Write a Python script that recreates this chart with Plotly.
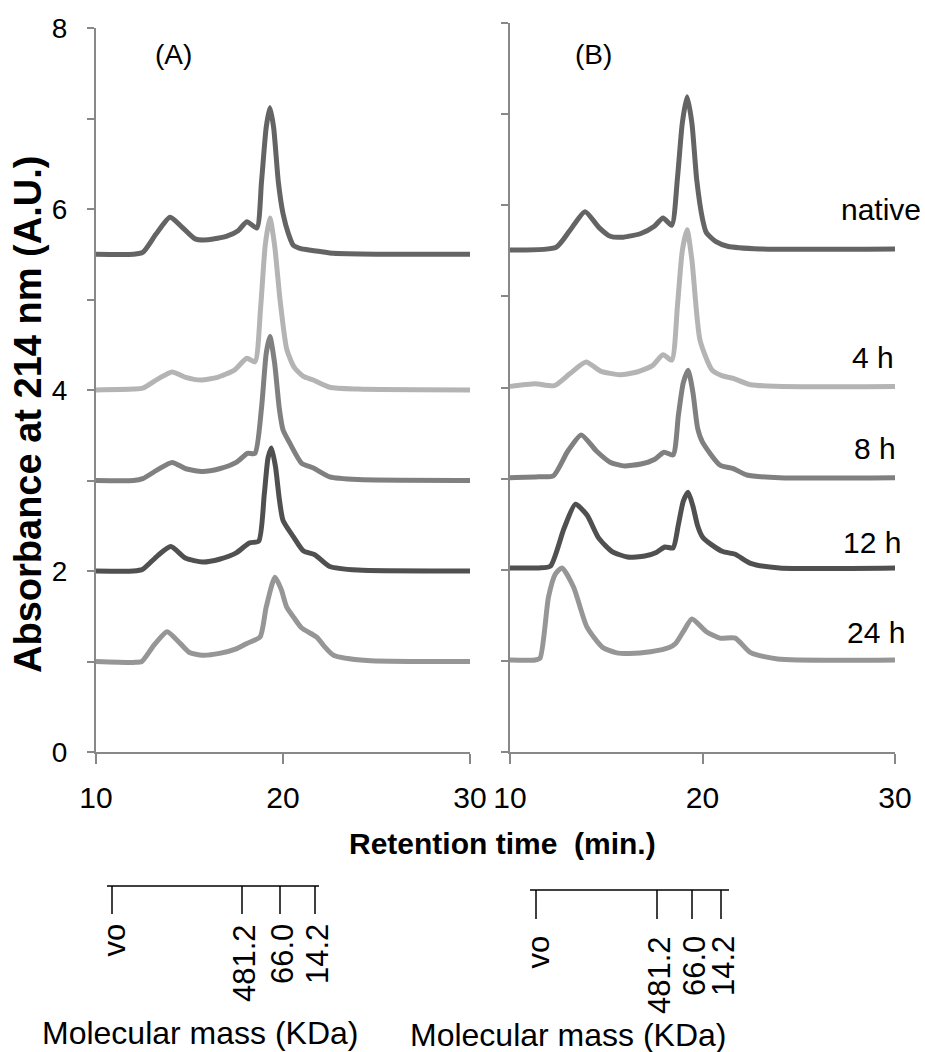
import plotly.graph_objects as go

# ---------------- data ----------------
series_names = ["native", "4 h", "8 h", "12 h", "24 h"]
series_colors = ["#646464", "#b4b4b4", "#808080", "#505050", "#969696"]

# Panel A
A_native_t = [10, 12.0, 12.5, 13.2, 13.96, 14.6, 15.3, 16.0, 17.0, 17.6, 18.07, 18.6, 18.85, 19.1, 19.3, 19.5, 19.75, 20.0, 20.3, 20.55, 21.0, 21.3, 22.0, 22.7, 25, 30]
A_native_y = [5.5, 5.5, 5.52, 5.72, 5.91, 5.8, 5.67, 5.66, 5.7, 5.76, 5.86, 5.79, 6.3, 6.9, 7.12, 6.9, 6.3, 5.95, 5.72, 5.6, 5.56, 5.55, 5.53, 5.51, 5.5, 5.5]

A_4h_t = [10, 12.0, 12.5, 13.3, 14.07, 14.8, 15.6, 16.5, 17.4, 18.07, 18.5, 18.8, 19.05, 19.3, 19.55, 19.84, 20.2, 20.6, 21.09, 21.62, 22.5, 24, 30]
A_4h_y = [4.0, 4.01, 4.02, 4.12, 4.2, 4.14, 4.11, 4.14, 4.22, 4.35, 4.31, 4.9, 5.6, 5.9, 5.6, 5.0, 4.45, 4.25, 4.15, 4.11, 4.03, 4.01, 4.0]

A_8h_t = [10, 12.0, 12.5, 13.3, 14.07, 14.8, 15.7, 16.6, 17.5, 18.1, 18.5, 18.85, 19.1, 19.3, 19.55, 19.8, 20.0, 20.37, 21.0, 21.6, 22.5, 24, 30]
A_8h_y = [3.0, 3.0, 3.02, 3.12, 3.2, 3.13, 3.1, 3.13, 3.2, 3.3, 3.3, 3.8, 4.4, 4.59, 4.3, 3.8, 3.56, 3.41, 3.19, 3.14, 3.04, 3.01, 3.0]

A_12h_t = [10, 12.0, 12.5, 13.3, 14.0, 14.8, 15.7, 16.6, 17.5, 18.2, 18.7, 19.0, 19.2, 19.38, 19.6, 19.8, 20.0, 20.55, 21.1, 21.7, 22.5, 24, 30]
A_12h_y = [2.0, 2.0, 2.02, 2.17, 2.27, 2.14, 2.1, 2.13, 2.2, 2.31, 2.33, 2.85, 3.25, 3.36, 3.15, 2.8, 2.56, 2.38, 2.22, 2.18, 2.05, 2.01, 2.0]

A_24h_t = [10, 12.0, 12.45, 13.1, 13.8, 14.5, 15.0, 15.7, 16.6, 17.5, 18.07, 18.77, 19.1, 19.57, 19.9, 20.2, 20.6, 21.0, 21.8, 22.2, 22.7, 24.5, 30]
A_24h_y = [1.0, 0.99, 1.0, 1.18, 1.33, 1.2, 1.1, 1.07, 1.09, 1.14, 1.2, 1.27, 1.6, 1.93, 1.8, 1.6, 1.48, 1.37, 1.27, 1.17, 1.07, 1.01, 1.0]

# Panel B
B_native_t = [10, 12.4, 13.1, 13.9, 14.6, 15.2, 15.9, 16.8, 17.5, 17.95, 18.4, 18.7, 18.95, 19.2, 19.45, 19.7, 20.0, 20.2, 20.7, 21.3, 23.0, 30]
B_native_y = [5.51, 5.54, 5.72, 5.93, 5.76, 5.66, 5.65, 5.69, 5.77, 5.86, 5.78, 6.3, 6.9, 7.19, 6.9, 6.28, 5.85, 5.7, 5.6, 5.55, 5.52, 5.52]

B_4h_t = [10, 11.3, 12.3, 13.1, 13.95, 14.7, 15.7, 16.6, 17.4, 17.95, 18.4, 18.7, 18.95, 19.2, 19.45, 19.87, 20.5, 21.0, 21.6, 22.5, 30]
B_4h_y = [4.01, 4.04, 4.02, 4.15, 4.28, 4.18, 4.14, 4.17, 4.24, 4.36, 4.3, 4.9, 5.5, 5.73, 5.4, 4.52, 4.19, 4.13, 4.1, 4.03, 4.01]

B_8h_t = [10, 11.5, 12.25, 13.0, 13.7, 14.5, 15.2, 15.9, 16.8, 17.5, 18.0, 18.47, 18.75, 19.0, 19.25, 19.5, 19.75, 20.0, 20.9, 21.6, 22.3, 24, 30]
B_8h_y = [3.01, 3.02, 3.03, 3.3, 3.48, 3.3, 3.18, 3.14, 3.16, 3.21, 3.29, 3.26, 3.7, 4.05, 4.19, 3.95, 3.55, 3.4, 3.15, 3.11, 3.04, 3.01, 3.01]

B_12h_t = [10, 11.5, 12.1, 12.8, 13.4, 14.0, 14.6, 15.3, 16.1, 17.0, 17.6, 18.05, 18.47, 18.75, 19.0, 19.25, 19.5, 19.75, 20.0, 20.5, 21.05, 21.7, 22.5, 24, 30]
B_12h_y = [2.02, 2.02, 2.04, 2.45, 2.72, 2.6, 2.35, 2.2, 2.14, 2.15, 2.19, 2.25, 2.24, 2.5, 2.75, 2.85, 2.7, 2.48, 2.36, 2.27, 2.2, 2.17, 2.07, 2.02, 2.02]

B_24h_t = [10, 11.3, 11.56, 12.0, 12.35, 12.7, 13.3, 14.0, 14.8, 15.5, 16.2, 17.3, 18.3, 18.6, 19.0, 19.45, 20.2, 20.9, 21.7, 22.5, 23.9, 30]
B_24h_y = [1.01, 1.01, 1.03, 1.7, 1.95, 2.02, 1.81, 1.37, 1.15, 1.09, 1.08, 1.1, 1.15, 1.19, 1.32, 1.46, 1.32, 1.25, 1.25, 1.09, 1.02, 1.01]

x_tick_vals = [10, 20, 30]
x_tick_text = ["10", "20", "30"]
y_tick_vals = [0, 1, 2, 3, 4, 5, 6, 7, 8]
y_tick_text = ["0", "", "2", "", "4", "", "6", "", "8"]

panel_labels = ["(A)", "(B)"]
mw_labels = ["vo", "481.2", "66.0", "14.2"]
mw_title = "Molecular mass (KDa)"
x_title = "Retention time  (min.)"
y_title = "Absorbance at 214 nm (A.U.)"

# ---------------- figure ----------------
W, H = 925, 1052
FONT = "Arial, 'Liberation Sans', sans-serif"


def px(x):
    return x / W


def py(y):
    return 1 - y / H


panelA = [(A_native_t, A_native_y), (A_4h_t, A_4h_y), (A_8h_t, A_8h_y), (A_12h_t, A_12h_y), (A_24h_t, A_24h_y)]
panelB = [(B_native_t, B_native_y), (B_4h_t, B_4h_y), (B_8h_t, B_8h_y), (B_12h_t, B_12h_y), (B_24h_t, B_24h_y)]

fig = go.Figure()
for (t, y), name, col in zip(panelA, series_names, series_colors):
    fig.add_trace(go.Scatter(x=t, y=y, mode="lines", name=name, xaxis="x", yaxis="y",
                             line=dict(color=col, width=5, shape="spline", smoothing=0.6),
                             showlegend=False))
for (t, y), name, col in zip(panelB, series_names, series_colors):
    fig.add_trace(go.Scatter(x=t, y=y, mode="lines", name=name, xaxis="x2", yaxis="y2",
                             line=dict(color=col, width=5, shape="spline", smoothing=0.6),
                             showlegend=False))

axcol = "#888888"
common_x = dict(range=[10, 30], tickvals=x_tick_vals, ticktext=x_tick_text, showgrid=False, zeroline=False,
                showline=True, linecolor=axcol, linewidth=2, ticks="outside", ticklen=10, tickcolor=axcol,
                tickwidth=2, tickfont=dict(family=FONT, size=30, color="black"), ticklabelstandoff=8,
                automargin=False)
common_y = dict(range=[0, 8], tickvals=y_tick_vals, showgrid=False, zeroline=False,
                showline=True, linecolor=axcol, linewidth=2, ticks="outside", ticklen=7, tickcolor=axcol,
                tickwidth=2, tickfont=dict(family=FONT, size=28, color="black"), automargin=False)

fig.update_layout(
    width=W, height=H,
    margin=dict(l=0, r=0, t=0, b=0),
    paper_bgcolor="white", plot_bgcolor="white",
    xaxis=dict(domain=[px(96), px(470)], anchor="y", **common_x),
    xaxis2=dict(domain=[px(510), px(895)], anchor="y2", **common_x),
    yaxis=dict(domain=[py(752), py(28)], anchor="x", ticktext=y_tick_text, ticklabelstandoff=14, **common_y),
    yaxis2=dict(domain=[py(752), py(23)], anchor="x2", ticktext=[""] * len(y_tick_vals), **common_y),
)

ann = []
# axis titles
ann.append(dict(x=px(502), y=py(843), xref="paper", yref="paper", text="<b>" + x_title + "</b>",
                showarrow=False, font=dict(family=FONT, size=30, color="black"), xanchor="center", yanchor="middle"))
ann.append(dict(x=px(28), y=py(415), xref="paper", yref="paper", text="<b>" + y_title + "</b>",
                showarrow=False, textangle=-90, font=dict(family=FONT, size=38, color="black"),
                xanchor="center", yanchor="middle"))
# panel labels
ann.append(dict(x=px(173), y=py(55), xref="paper", yref="paper", text=panel_labels[0], showarrow=False,
                font=dict(family=FONT, size=28, color="black"), xanchor="center", yanchor="middle"))
ann.append(dict(x=px(593), y=py(55), xref="paper", yref="paper", text=panel_labels[1], showarrow=False,
                font=dict(family=FONT, size=28, color="black"), xanchor="center", yanchor="middle"))
# series labels (right of panel B)
label_pos = [(923, 210), (896, 357), (898, 448), (903, 542), (907, 632)]
for name, (lx, ly) in zip(series_names, label_pos):
    ann.append(dict(x=px(lx), y=py(ly), xref="paper", yref="paper", text=name, showarrow=False,
                    font=dict(family=FONT, size=30, color="black"), xanchor="right", yanchor="middle"))

shapes = []
# molecular mass scales
mw_scales = [
    dict(line_y=886, x0=107, x1=319, ticks=[112, 242, 280, 315], tick_bot=914, lab_top=922, title_x=200, title_y=1033),
    dict(line_y=890, x0=530, x1=729, ticks=[536, 657, 692, 721], tick_bot=919, lab_top=934, title_x=568, title_y=1035),
]
for sc in mw_scales:
    shapes.append(dict(type="line", xref="paper", yref="paper", x0=px(sc["x0"]), x1=px(sc["x1"]),
                       y0=py(sc["line_y"]), y1=py(sc["line_y"]), line=dict(color="black", width=1.5)))
    for tx, lab in zip(sc["ticks"], mw_labels):
        shapes.append(dict(type="line", xref="paper", yref="paper", x0=px(tx), x1=px(tx),
                           y0=py(sc["line_y"]), y1=py(sc["tick_bot"]), line=dict(color="black", width=1.5)))
        ann.append(dict(x=px(tx + 2), y=py(sc["lab_top"]), xref="paper", yref="paper", text=lab,
                        showarrow=False, textangle=-90, font=dict(family=FONT, size=31, color="black"),
                        xanchor="center", yanchor="top"))
    ann.append(dict(x=px(sc["title_x"]), y=py(sc["title_y"]), xref="paper", yref="paper", text=mw_title,
                    showarrow=False, font=dict(family=FONT, size=32, color="black"),
                    xanchor="center", yanchor="middle"))

fig.update_layout(annotations=ann, shapes=shapes)
fig.write_html("out.html", config={"displayModeBar": False},
               post_script="document.body.style.margin='0';document.body.style.padding='0';")
